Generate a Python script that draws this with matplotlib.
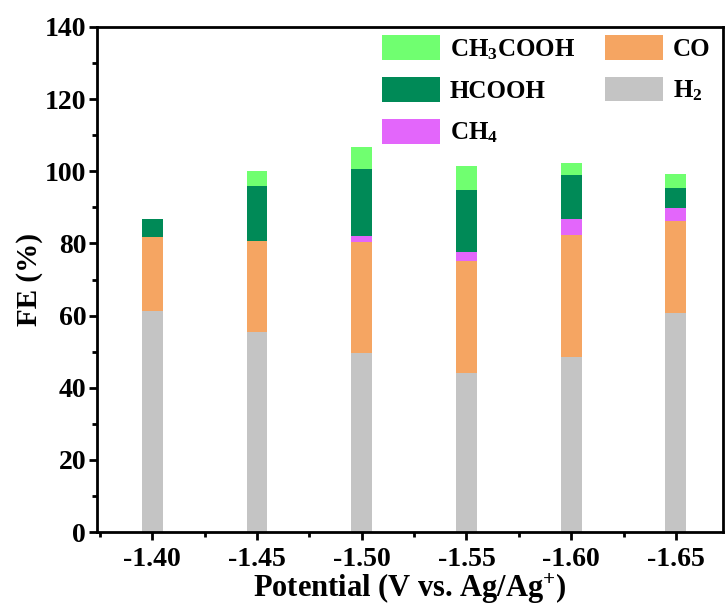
import numpy as np
import matplotlib
matplotlib.use("Agg")
import matplotlib.pyplot as plt
from matplotlib.ticker import MultipleLocator

plt.rcParams["font.family"] = ["Liberation Serif", "DejaVu Serif"]
plt.rcParams["font.weight"] = "bold"
plt.rcParams["mathtext.default"] = "regular"

potentials = ["-1.40", "-1.45", "-1.50", "-1.55", "-1.60", "-1.65"]
fe_h2 = [61.4, 55.5, 49.7, 44.2, 48.4, 60.8]
fe_co = [20.5, 25.3, 30.8, 31.0, 34.0, 25.4]
fe_ch4 = [0.0, 0.0, 1.5, 2.3, 4.4, 3.6]
fe_hcooh = [4.8, 15.2, 18.7, 17.3, 12.1, 5.7]
fe_ch3cooh = [0.0, 4.2, 5.9, 6.8, 3.5, 3.7]

fig = plt.figure(figsize=(7.26, 6.13), dpi=100)
ax = fig.add_axes([0.134, 0.132, 0.862, 0.824])

x = np.arange(len(potentials))
w = 0.2
bottom = np.zeros(len(potentials))
series = [
    ("H$_2$", fe_h2, "#c4c4c4"),
    ("CO", fe_co, "#f5a562"),
    ("CH$_4$", fe_ch4, "#e366fb"),
    ("HCOOH", fe_hcooh, "#008a57"),
    ("CH$_3$COOH", fe_ch3cooh, "#70ff70"),
]
handles = {}
for name, vals, col in series:
    b = ax.bar(x, vals, w, bottom=bottom, color=col, label=name, linewidth=0)
    handles[name] = b
    bottom += np.array(vals)

ax.set_xlim(-0.525, 5.45)
ax.set_ylim(0, 140)
ax.set_xticks(x)
ax.set_xticklabels(potentials)
ax.xaxis.set_minor_locator(MultipleLocator(0.5))
ax.yaxis.set_major_locator(MultipleLocator(20))
ax.yaxis.set_minor_locator(MultipleLocator(10))

for s in ["left", "bottom", "top", "right"]:
    ax.spines[s].set_linewidth(2)
ax.tick_params(which="major", direction="out", length=6, width=2, labelsize=20)
ax.tick_params(which="minor", direction="out", length=3.5, width=2)
ax.tick_params(axis="y", pad=2)
ax.tick_params(axis="x", pad=5)

ax.set_xlabel("Potential (V vs. Ag/Ag$^{+}$)", fontsize=22, fontweight="bold", labelpad=0)
ax.set_ylabel("FE (%)", fontsize=21, fontweight="bold", labelpad=1)

order = ["CH$_3$COOH", "HCOOH", "CH$_4$", "CO", "H$_2$"]
leg = ax.legend([handles[k] for k in order], order, ncol=2, frameon=False,
                loc="upper left", bbox_to_anchor=(0.455, 0.984),
                borderpad=0, borderaxespad=0, fontsize=18,
                handlelength=2.32, handleheight=1.16, labelspacing=0.62,
                columnspacing=1.2, handletextpad=0.4)

fig.savefig("out.png", dpi=100)
